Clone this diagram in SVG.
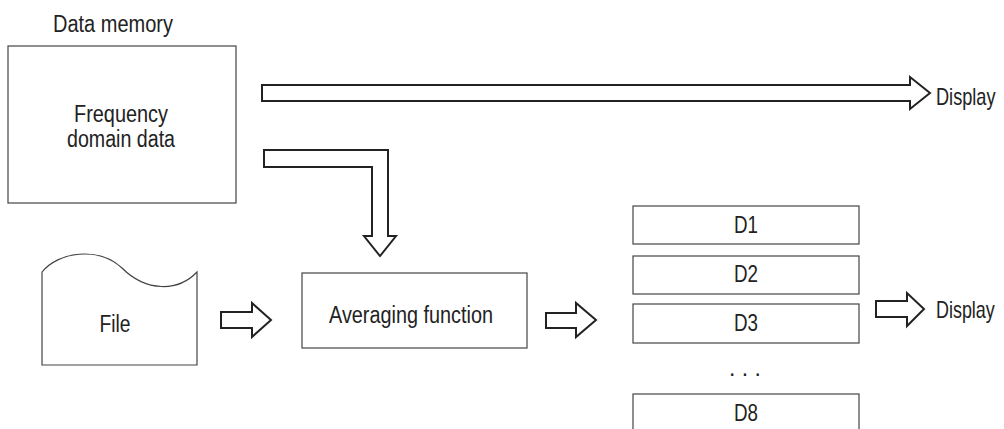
<svg xmlns="http://www.w3.org/2000/svg" width="1004" height="429" viewBox="0 0 1004 429">
<style>
.box{fill:#fff;stroke:#444;stroke-width:1.2}
.arr{fill:#fff;stroke:#222;stroke-width:2;stroke-linejoin:miter}
text{font-family:"Liberation Sans",Arial,sans-serif;font-size:23px;fill:#222}
.c{text-anchor:middle}
</style>
<rect width="1004" height="429" fill="#fff"/>
<g id="data-memory">
<text x="53" y="32" textLength="120" lengthAdjust="spacingAndGlyphs">Data memory</text>
<rect class="box" x="8" y="46" width="228" height="157"/>
<text x="121" y="122" class="c" textLength="94" lengthAdjust="spacingAndGlyphs">Frequency</text>
<text x="121" y="147" class="c" textLength="108" lengthAdjust="spacingAndGlyphs">domain data</text>
</g>
<g id="file">
<path class="box" d="M42,365 L42,272 C58,252 98,246 122,268 C146,292 178,292 197,272 L197,365 Z"/>
<text x="115" y="332" class="c" textLength="31" lengthAdjust="spacingAndGlyphs">File</text>
</g>
<g id="averaging">
<rect class="box" x="302" y="273" width="225" height="75"/>
<text x="411" y="323" class="c" textLength="164" lengthAdjust="spacingAndGlyphs">Averaging function</text>
</g>
<g id="d1"><rect class="box" x="633" y="206" width="226" height="38"/><text x="746" y="233" class="c" textLength="24" lengthAdjust="spacingAndGlyphs">D1</text></g>
<g id="d2"><rect class="box" x="633" y="256" width="226" height="38"/><text x="746" y="282" class="c" textLength="24" lengthAdjust="spacingAndGlyphs">D2</text></g>
<g id="d3"><rect class="box" x="633" y="304" width="226" height="39"/><text x="746" y="331" class="c" textLength="24" lengthAdjust="spacingAndGlyphs">D3</text></g>
<g id="dots"><text x="745" y="376" class="c">. . .</text></g>
<g id="d8"><rect class="box" x="633" y="394" width="226" height="40"/><text x="746" y="421" class="c" textLength="24" lengthAdjust="spacingAndGlyphs">D8</text></g>
<g id="display-top"><text transform="translate(936,105) scale(0.79,1)">Display</text></g>
<g id="display-right"><text transform="translate(936,318) scale(0.78,1)">Display</text></g>
<g id="connectors">
<path class="arr" d="M262,85 L910,85 L910,77 L930,93 L910,109 L910,101 L262,101 Z"/>
<path class="arr" d="M264,150 L388,150 L388,236 L396,236 L380,256 L364,236 L372,236 L372,167 L264,167 Z"/>
<path class="arr" d="M221,312 L252,312 L252,303 L271,320 L252,337 L252,328 L221,328 Z"/>
<path class="arr" d="M546,313 L576,313 L576,303 L596,320 L576,337 L576,328 L546,328 Z"/>
<path class="arr" d="M876,301 L907,301 L907,293 L924,309 L907,326 L907,317 L876,317 Z"/>
</g>
</svg>
